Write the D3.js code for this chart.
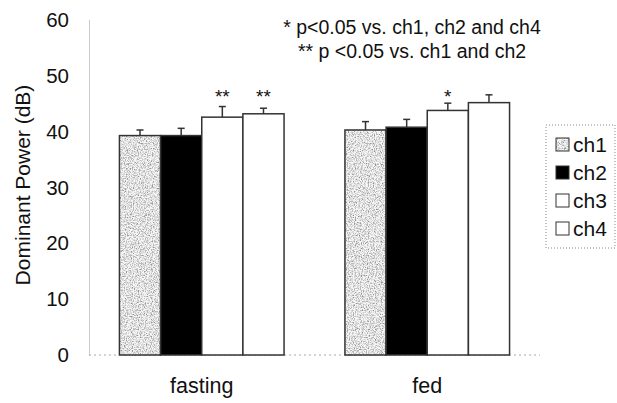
<!DOCTYPE html>
<html>
<head>
<meta charset="utf-8"/>
<script src="https://cdn.jsdelivr.net/npm/d3@7"></script>
<style>
  body { margin: 0; background: #fff; }
  text { font-family: "Liberation Sans", Arial, sans-serif; fill: #111; }
</style>
</head>
<body>
<div id="chart"></div>
<script>
  // data
  var groups = ["fasting", "fed"];
  var channels = ["ch1", "ch2", "ch3", "ch4"];
  var fastingMean = [39.3, 39.3, 42.6, 43.2];
  var fastingErr = [1.0, 1.3, 1.9, 1.0];
  var fedMean = [40.3, 40.8, 43.8, 45.2];
  var fedErr = [1.5, 1.4, 1.3, 1.4];
  var fastingStars = ["", "", "**", "**"];
  var fedStars = ["", "", "*", ""];
  var yTicks = [0, 10, 20, 30, 40, 50, 60];
  var notes = ["* p<0.05 vs. ch1, ch2 and ch4", "** p <0.05 vs. ch1 and ch2"];

  var rows = [];
  groups.forEach(function(g, gi) {
    var m = gi == 0 ? fastingMean : fedMean;
    var e = gi == 0 ? fastingErr : fedErr;
    var s = gi == 0 ? fastingStars : fedStars;
    channels.forEach(function(c, ci) {
      rows.push({group: g, ch: c, mean: m[ci], err: e[ci], star: s[ci]});
    });
  });

  var W = 617, H = 403;
  var mLeft = 89, mRight = 540, mTop = 20, mBottom = 355;

  var svg = d3.select("#chart").append("svg").attr("width", W).attr("height", H);

  // speckled fill for ch1
  var defs = svg.append("defs");
  var f = defs.append("filter").attr("id", "speck").attr("x", 0).attr("y", 0).attr("width", 1).attr("height", 1);
  f.append("feTurbulence").attr("type", "fractalNoise").attr("baseFrequency", 0.85).attr("numOctaves", 2).attr("seed", 3).attr("result", "n");
  f.append("feColorMatrix").attr("in", "n").attr("type", "matrix")
    .attr("values", "0 0 0 0 0.2  0 0 0 0 0.2  0 0 0 0 0.2  -2.0 0 0 0 1.3").attr("result", "dots");
  f.append("feComponentTransfer").attr("in", "dots").attr("result", "dots2")
    .append("feFuncA").attr("type", "discrete").attr("tableValues", "0 0.3 0.6 0.85");
  f.append("feFlood").attr("flood-color", "#f4f4f4").attr("result", "bg");
  f.append("feComposite").attr("in", "dots2").attr("in2", "bg").attr("operator", "over").attr("result", "mix");
  f.append("feComposite").attr("in", "mix").attr("in2", "SourceGraphic").attr("operator", "in");

  var fills = {ch1: "#999", ch2: "#000", ch3: "#fff", ch4: "#fff"};

  var x0 = d3.scaleBand().domain(groups).range([mLeft, mRight]).paddingInner(0.27).paddingOuter(0.135);
  var x1 = d3.scaleBand().domain(channels).range([0, x0.bandwidth()]);
  var y = d3.scaleLinear().domain([0, 60]).range([mBottom, mTop]);

  // y axis (faint dotted line as in the scan)
  var yAxis = svg.append("g").attr("transform", "translate(" + mLeft + ",0)")
    .call(d3.axisLeft(y).tickValues(yTicks).tickSize(0).tickPadding(20));
  yAxis.select(".domain").attr("stroke", "#999").attr("stroke-dasharray", "1,1");
  yAxis.selectAll("text").attr("font-size", 20.5).attr("font-family", "Liberation Sans, Arial, sans-serif").attr("fill", "#111");

  // x baseline
  svg.append("line").attr("x1", mLeft).attr("x2", mRight).attr("y1", y(0)).attr("y2", y(0))
    .attr("stroke", "#aaa").attr("stroke-dasharray", "2,3");

  var bars = svg.append("g").selectAll("g.bar").data(rows).enter().append("g")
    .attr("transform", function(d) { return "translate(" + (x0(d.group) + x1(d.ch)) + ",0)"; });

  bars.append("rect")
    .attr("x", 0).attr("width", x1.bandwidth())
    .attr("y", function(d) { return y(d.mean); })
    .attr("height", function(d) { return y(0) - y(d.mean); })
    .attr("fill", function(d) { return fills[d.ch]; })
    .attr("filter", function(d) { return d.ch == "ch1" ? "url(#speck)" : null; });
  bars.append("rect")
    .attr("x", 0).attr("width", x1.bandwidth())
    .attr("y", function(d) { return y(d.mean); })
    .attr("height", function(d) { return y(0) - y(d.mean); })
    .attr("fill", "none").attr("stroke", "#333").attr("stroke-width", 1.5);

  // error bars, upper only
  var bw = x1.bandwidth();
  bars.append("line").attr("x1", bw / 2).attr("x2", bw / 2)
    .attr("y1", function(d) { return y(d.mean); })
    .attr("y2", function(d) { return y(d.mean + d.err); })
    .attr("stroke", "#333").attr("stroke-width", 1.5);
  bars.append("line").attr("x1", bw / 2 - 3.5).attr("x2", bw / 2 + 3.5)
    .attr("y1", function(d) { return y(d.mean + d.err); })
    .attr("y2", function(d) { return y(d.mean + d.err); })
    .attr("stroke", "#333").attr("stroke-width", 1.5);

  bars.append("text").attr("x", bw / 2).attr("y", 103)
    .attr("text-anchor", "middle").attr("font-size", 19)
    .text(function(d) { return d.star; });

  // category labels
  svg.append("g").selectAll("text").data(groups).enter().append("text")
    .attr("x", function(d) { return x0(d) + x0.bandwidth() / 2; })
    .attr("y", 393).attr("text-anchor", "middle").attr("font-size", 21.5)
    .text(function(d) { return d; });

  // y title
  svg.append("text").attr("transform", "translate(30,185) rotate(-90)")
    .attr("text-anchor", "middle").attr("font-size", 21).text("Dominant Power (dB)");

  // notes
  svg.append("g").selectAll("text").data(notes).enter().append("text")
    .attr("x", 412).attr("y", function(d, i) { return 34 + i * 24; })
    .attr("text-anchor", "middle").attr("font-size", 19.5)
    .text(function(d) { return d; });

  // legend
  var lg = svg.append("g").attr("transform", "translate(546,125)");
  lg.append("rect").attr("width", 69).attr("height", 123).attr("fill", "none")
    .attr("stroke", "#888").attr("stroke-dasharray", "1,2");
  var items = lg.selectAll("g").data(channels).enter().append("g")
    .attr("transform", function(d, i) { return "translate(10," + (19 + i * 28) + ")"; });
  items.append("rect").attr("x", 0).attr("y", -6).attr("width", 13).attr("height", 13)
    .attr("fill", function(d) { return fills[d]; })
    .attr("filter", function(d) { return d == "ch1" ? "url(#speck)" : null; });
  items.append("rect").attr("x", 0).attr("y", -6).attr("width", 13).attr("height", 13)
    .attr("fill", "none").attr("stroke", "#333").attr("stroke-width", 1);
  items.append("text").attr("x", 17).attr("y", 8).attr("font-size", 21).text(function(d) { return d; });
</script>
</body>
</html>
